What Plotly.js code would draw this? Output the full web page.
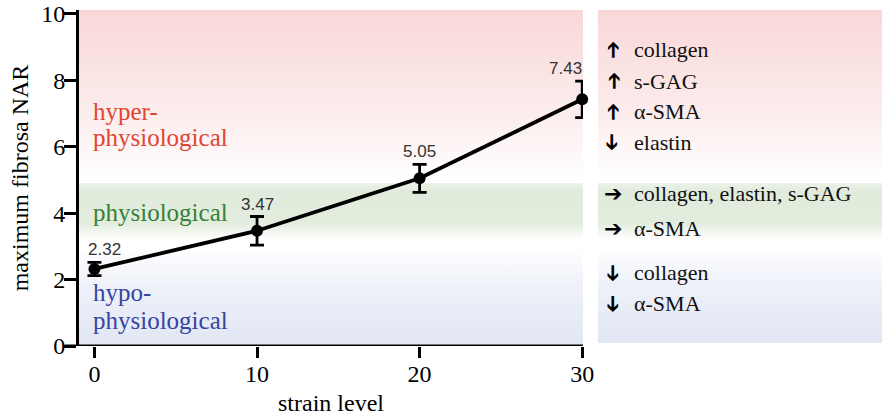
<!DOCTYPE html>
<html>
<head>
<meta charset="utf-8">
<script src="https://cdn.plot.ly/plotly-3.0.1.min.js"></script>
<style>html,body{margin:0;padding:0;background:#fff;}#chart{width:882px;height:418px;}</style>
</head>
<body>
<div id="chart"></div>
<script>
// ---- data ----
var strainLevels = [0, 10, 20, 30];
var narMeans = [2.32, 3.47, 5.05, 7.43];
var narErrors = [0.20, 0.43, 0.42, 0.55];
var narLabels = ['2.32', '3.47', '5.05', '7.43'];
var xTickVals = [0, 10, 20, 30];
var yTickVals = [0, 2, 4, 6, 8, 10];

// regime bands (NAR ranges)
var bandNames = ['hyper', 'physiological', 'hypo'];
var bandLow = [5.0, 3.19, 0.0];
var bandHigh = [10.12, 4.91, 3.0];

// response text (right panel)
var respArrows = ['up', 'up', 'up', 'down', 'right', 'right', 'down', 'down'];
var respTexts = ['collagen', 's-GAG', 'α-SMA', 'elastin', 'collagen, elastin, s-GAG', 'α-SMA', 'collagen', 'α-SMA'];
var respLevels = [8.92, 7.98, 7.05, 6.14, 4.58, 3.55, 2.20, 1.27];

var serif = 'Liberation Serif, Times New Roman, serif';
var xr = [-0.95, 30.05];
var yr = [0, 10.12];

var bandScales = {
  hyper: [[0, 'rgb(255,255,255)'], [0.35, 'rgb(252,238,238)'], [1, 'rgb(249,215,215)']],
  physiological: [[0, 'rgb(255,255,255)'], [0.3, 'rgb(226,237,222)'], [0.85, 'rgb(224,235,219)'], [1, 'rgb(236,243,233)']],
  hypo: [[0, 'rgb(225,230,243)'], [0.6, 'rgb(238,241,249)'], [1, 'rgb(255,255,255)']]
};

var traces = [];
function band(xa, x0, x1, i, yb) {
  var lo = Math.max(bandLow[i], yb);
  traces.push({
    type: 'scatter', mode: 'none', xaxis: xa, yaxis: 'y',
    x: [x0, x1, x1, x0, x0], y: [lo, lo, bandHigh[i], bandHigh[i], lo],
    fill: 'toself', fillgradient: {type: 'vertical', colorscale: bandScales[bandNames[i]]},
    hoverinfo: 'skip', showlegend: false, line: {width: 0}
  });
}
for (var i = 0; i < bandNames.length; i++) { band('x', xr[0], xr[1], i, 0); band('x2', 0, 1, i, 0.09); }

traces.push({
  type: 'scatter', mode: 'lines+markers', x: strainLevels, y: narMeans,
  line: {color: '#000', width: 3.8}, marker: {color: '#000', size: 12},
  error_y: {type: 'data', array: narErrors, visible: true, color: '#000', thickness: 2.8, width: 7},
  showlegend: false, cliponaxis: false
});

var ann = [];
for (var k = 0; k < strainLevels.length; k++) {
  var last = k === strainLevels.length - 1;
  ann.push({
    xref: 'x', yref: 'y', x: strainLevels[k], y: narMeans[k] + narErrors[k],
    text: narLabels[k], showarrow: false, yanchor: 'bottom',
    xanchor: last ? 'right' : (k === 0 ? 'left' : 'center'),
    xshift: k === 0 ? -8 : (last ? 2 : 0), yshift: 1,
    font: {family: 'Liberation Sans, Arial, sans-serif', size: 17, color: '#333'}
  });
}
var leftLabels = [
  {t: 'hyper-', y: 7.05, c: 'rgb(226,68,50)'},
  {t: 'physiological', y: 6.27, c: 'rgb(226,68,50)'},
  {t: 'physiological', y: 4.01, c: 'rgb(55,128,55)'},
  {t: 'hypo-', y: 1.60, c: 'rgb(55,68,160)'},
  {t: 'physiological', y: 0.78, c: 'rgb(55,68,160)'}
];
leftLabels.forEach(function (l) {
  ann.push({xref: 'x', yref: 'y', x: 0, y: l.y, text: l.t, showarrow: false, xanchor: 'left', yanchor: 'middle',
    xshift: -3, font: {family: serif, size: 25, color: l.c}});
});
var arrowAngle = {up: -90, down: 90, right: 0};
for (var r = 0; r < respTexts.length; r++) {
  ann.push({xref: 'x2', yref: 'y', x: 0.053, y: respLevels[r], text: '<b>➔</b>', textangle: arrowAngle[respArrows[r]],
    showarrow: false, xanchor: 'center', yanchor: 'middle',
    font: {family: 'DejaVu Sans, sans-serif', size: 22, color: '#000'}});
  ann.push({xref: 'x2', yref: 'y', x: 0.12, y: respLevels[r], text: respTexts[r], showarrow: false,
    xanchor: 'left', yanchor: 'middle', font: {family: serif, size: 22, color: '#111'}});
}

var mainEnd = (583 - 79) / 803;
var layout = {
  width: 882, height: 418,
  margin: {l: 79, r: 0, t: 10, b: 72},
  paper_bgcolor: '#fff', plot_bgcolor: 'rgba(0,0,0,0)',
  font: {family: serif, size: 24, color: '#000'},
  showlegend: false,
  xaxis: {domain: [0, mainEnd], range: xr, tickvals: xTickVals, ticks: 'outside', ticklen: 11, tickwidth: 3,
    tickcolor: '#000', showline: false, showgrid: false, zeroline: false, ticklabelstandoff: -5,
    tickfont: {family: serif, size: 24, color: '#000'},
    title: {text: 'strain level', font: {family: serif, size: 24, color: '#000'}, standoff: 8}},
  xaxis2: {domain: [(598 - 79) / 803, 1], range: [0, 1], anchor: 'y', visible: false, showgrid: false, zeroline: false},
  yaxis: {range: yr, tickvals: yTickVals, ticks: 'outside', ticklen: 12, tickwidth: 3, tickcolor: '#000',
    showline: true, linewidth: 3, linecolor: '#000', showgrid: false, zeroline: false,
    ticklabelstandoff: -6, ticklabeloverflow: 'allow',
    tickfont: {family: serif, size: 24, color: '#000'},
    title: {text: 'maximum fibrosa NAR', font: {family: serif, size: 24, color: '#000'}, standoff: 6}},
  shapes: [{type: 'line', xref: 'paper', yref: 'y', x0: -0.018, x1: mainEnd, y0: 0, y1: 0,
    line: {color: '#000', width: 3}}],
  annotations: ann
};
Plotly.newPlot('chart', traces, layout, {displayModeBar: false, staticPlot: true});
</script>
</body>
</html>
